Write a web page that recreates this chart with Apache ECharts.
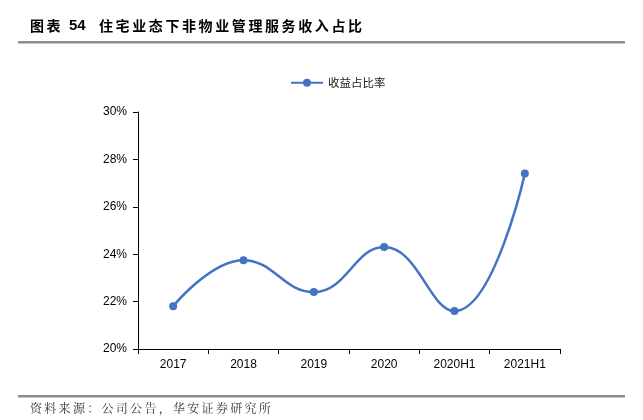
<!DOCTYPE html>
<html><head><meta charset="utf-8">
<script src="https://cdn.jsdelivr.net/npm/echarts@6/dist/echarts.min.js"></script>
<style>html,body{margin:0;padding:0;background:#fff}#c{width:643px;height:420px}</style>
</head><body><div id="c"></div>
<script>
var categories = ['2017','2018','2019','2020','2020H1','2021H1'];
var ratio = [21.8, 23.75, 22.4, 24.3, 21.6, 27.4];
var seriesName = '收益占比率';
var titlePrefix = '图表';
var titleNumber = '54';
var titleText = '住宅业态下非物业管理服务收入占比';
var sourceText = '资料来源：公司公告，华安证券研究所';

function spaced(str, x0, y, step, font, fill) {
  var out = [];
  for (var i = 0; i < str.length; i++) {
    out.push({type:'text', left: x0 + i * step, top: y, style:{text: str[i], font: font, fill: fill}});
  }
  return out;
}

var graphics = [].concat(
  spaced(titlePrefix, 30, 19, 16.5, 'bold 14px "Noto Sans CJK SC"', '#000'),
  [{type:'text', left:69, top:18, style:{text:titleNumber, font:'bold 15px "Liberation Sans"', fill:'#000'}}],
  spaced(titleText, 99, 19, 16.6, 'bold 14px "Noto Sans CJK SC"', '#000'),
  [
    {type:'rect', shape:{x:18, y:41, width:607, height:2.5}, style:{fill:'#8c8c8c'}},
    {type:'rect', shape:{x:18, y:395, width:607, height:2.5}, style:{fill:'#8c8c8c'}}
  ],
  spaced(sourceText, 30, 402, 14.3, '12px "Noto Serif CJK SC","Noto Sans CJK SC"', '#333')
);

var chart = echarts.init(document.getElementById('c'));
chart.setOption({
  animation: false,
  graphic: graphics,
  legend: {
    top: 72, left: 285,
    itemWidth: 32, itemHeight: 10, itemGap: 5,
    textStyle: {fontSize: 11.5, color:'#222', fontFamily:'"Noto Sans CJK SC"'},
    data: [seriesName]
  },
  grid: {left:138, right:83, top:112, bottom:71},
  xAxis: {
    type:'category', data: categories,
    axisLine:{lineStyle:{color:'#000', width:1}},
    axisTick:{show:true, alignWithLabel:false, length:5, lineStyle:{color:'#000'}},
    axisLabel:{color:'#000', fontSize:12, fontFamily:'"Liberation Sans"', margin:10}
  },
  yAxis: {
    type:'value', min:20, max:30, interval:2,
    axisLine:{show:true, lineStyle:{color:'#000', width:1}},
    axisTick:{show:true, length:5, lineStyle:{color:'#000'}},
    splitLine:{show:false},
    axisLabel:{color:'#000', fontSize:12, fontFamily:'"Liberation Sans"', margin:11, formatter: function(v){return v+'%';}}
  },
  series: [{
    name: seriesName, type:'line', data: ratio, smooth: 0.45,
    symbol:'circle', symbolSize:8,
    lineStyle:{color:'#4472C4', width:2.5},
    itemStyle:{color:'#4472C4'}
  }]
});
</script></body></html>
